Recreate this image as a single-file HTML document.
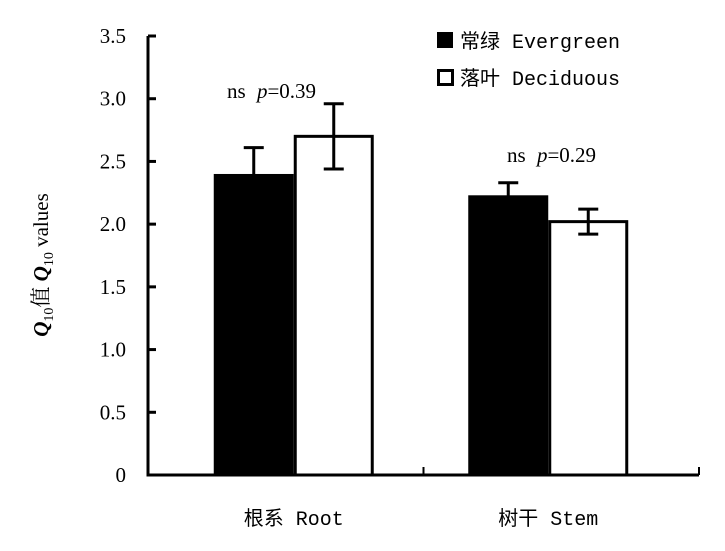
<!DOCTYPE html>
<html><head><meta charset="utf-8"><style>
body{margin:0;background:#fff}
svg{display:block}
text{fill:#000}
.t{font-family:"Liberation Serif","Noto Serif CJK SC",serif;font-size:21px}
.m{font-family:"Liberation Mono","Noto Sans CJK SC",monospace;font-size:20px}
</style></head><body>
<svg id="c" width="725" height="551" viewBox="0 0 725 551" xmlns="http://www.w3.org/2000/svg">
<g id="ax"></g>
<g id="marks"></g>
<g>
<rect x="437" y="32" width="16" height="16" fill="#000"/>
<text class="m" x="460" y="48">常绿 Evergreen</text>
<rect x="438.5" y="70.5" width="14" height="14" fill="#fff" stroke="#000" stroke-width="3"/>
<text class="m" x="460" y="85">落叶 Deciduous</text>
</g>
<text class="t" x="227" y="98">ns <tspan font-style="italic" dx="6">p</tspan>=0.39</text>
<text class="t" x="507" y="162">ns <tspan font-style="italic" dx="6">p</tspan>=0.29</text>
<text class="t" transform="translate(48,265) rotate(-90)" text-anchor="middle"><tspan font-style="italic" font-weight="bold">Q</tspan><tspan font-size="14" dy="5">10</tspan><tspan dy="-5">值 </tspan><tspan font-style="italic" font-weight="bold">Q</tspan><tspan font-size="14" dy="5">10</tspan><tspan dy="-5"> values</tspan></text>
</svg>
<script>
const categories=["根系 Root","树干 Stem"];
const evergreen=[2.40,2.23];
const evergreenErr=[0.21,0.10];
const deciduous=[2.70,2.02];
const deciduousErr=[0.26,0.10];
const yTicks=[0,0.5,1.0,1.5,2.0,2.5,3.0,3.5];
const yTickLabels=["0","0.5","1.0","1.5","2.0","2.5","3.0","3.5"];
const NS="http://www.w3.org/2000/svg";
const y0=475,yTop=36,xL=148,xR=699;
function y(v){return y0-(v/3.5)*(y0-yTop);}
const groupW=(xR-xL)/categories.length;
function xc(i){return xL+groupW*(i+0.5)+ (i===0?8:-13);}
const bw=80;
function mk(tag,attrs,parent){const e=document.createElementNS(NS,tag);for(const k in attrs)e.setAttribute(k,attrs[k]);parent.appendChild(e);return e;}
const ax=document.getElementById('ax'),marks=document.getElementById('marks');
categories.forEach((c,i)=>{
  const cx=xc(i);
  let r=mk('rect',{x:cx-bw,y:y(evergreen[i]),width:bw,height:y0-y(evergreen[i]),fill:'#000'},marks);
  
  
  let r2=mk('rect',{x:cx+1.5,y:y(deciduous[i]),width:bw-3,height:y0-y(deciduous[i]),fill:'#fff',stroke:'#000','stroke-width':3},marks);
  
  
  [[cx-bw/2,evergreen[i],evergreenErr[i],'evergreen'],[cx+bw/2,deciduous[i],deciduousErr[i],'deciduous']].forEach(([ex,v,e,n])=>{
    const g=mk('g',{stroke:'#000','stroke-width':3},marks);
    
    
    mk('line',{x1:ex,x2:ex,y1:y(v+e),y2:y(v-e)},g);
    mk('line',{x1:ex-10,x2:ex+10,y1:y(v+e),y2:y(v+e)},g);
    mk('line',{x1:ex-10,x2:ex+10,y1:y(v-e),y2:y(v-e)},g);
  });
  const t=mk('text',{x:cx,y:525,'text-anchor':'middle',class:'m'},ax);
  t.textContent=c;
  
  
});
const yl=mk('line',{x1:xL,x2:xL,y1:yTop,y2:y0+1.5,stroke:'#000','stroke-width':3},ax);


const xl=mk('line',{x1:xL-1.5,x2:xR,y1:y0,y2:y0,stroke:'#000','stroke-width':3},ax);


[xL+groupW,xR].forEach(tx=>{const l=mk('line',{x1:tx,x2:tx,y1:y0,y2:y0-8,stroke:'#000','stroke-width':2},ax);
  
  });
yTicks.forEach((v,i)=>{
  const l=mk('line',{x1:xL,x2:xL+8,y1:y(v),y2:y(v),stroke:'#000','stroke-width':3},ax);
  
  
  const t=mk('text',{x:126,y:y(v)+7,'text-anchor':'end',class:'t'},ax);
  t.textContent=yTickLabels[i];
  
  
});
</script>
</body></html>
